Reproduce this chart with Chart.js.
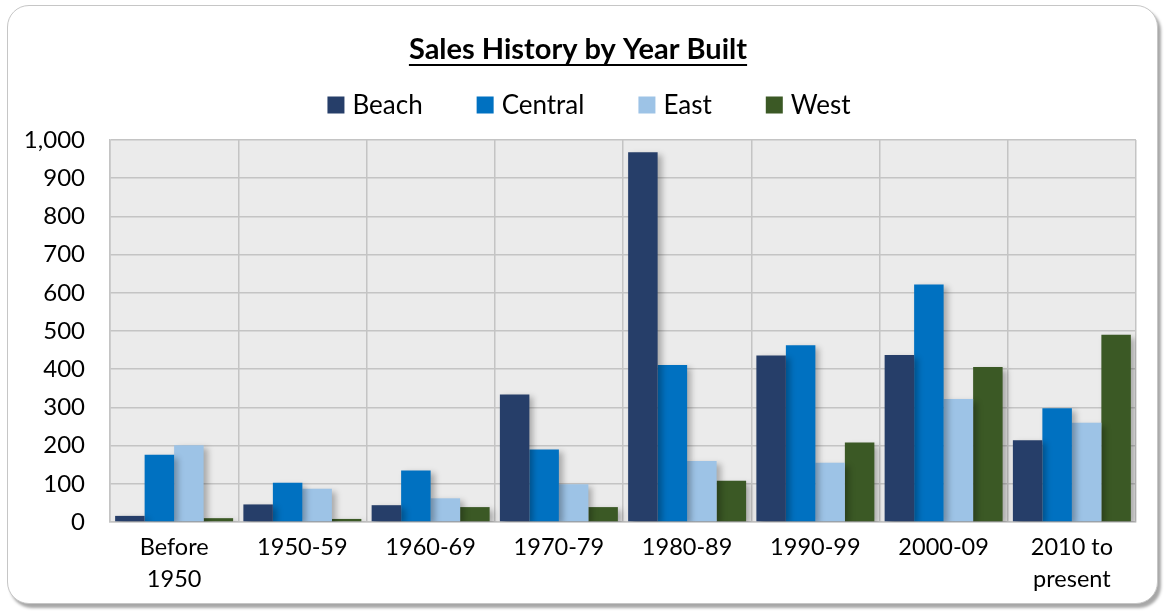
<!DOCTYPE html>
<html lang="en">
<head>
  <meta charset="UTF-8">
  <title>Sales History by Year Built</title>
  <script src="https://cdn.jsdelivr.net/npm/chart.js"></script>
  <style>
    html, body { margin: 0; padding: 0; background: #ffffff; }
    #frame {
      position: absolute; left: 7px; top: 5px; width: 1151px; height: 599px;
      box-sizing: border-box; border: 1.5px solid #c6c6c6; border-radius: 22px;
      box-shadow: 3px 4px 3px rgba(0, 0, 0, 0.35); background: #ffffff;
    }
    #salesChart { position: absolute; left: 0; top: 0; }
  </style>
</head>
<body>
  <div id="frame"></div>
  <canvas id="salesChart" width="1165" height="614"></canvas>

  <script>
    // Sales counts per build-year bucket, one array per area
    const yearBuilt = [['Before', '1950'], '1950-59', '1960-69', '1970-79', '1980-89', '1990-99', '2000-09', ['2010 to', 'present']];
    const areaNames = ['Beach', 'Central', 'East', 'West'];
    const beachSales = [16, 46, 44, 334, 968, 436, 437, 214];
    const centralSales = [176, 103, 135, 190, 411, 463, 622, 298];
    const eastSales = [201, 87, 62, 99, 160, 155, 322, 260];
    const westSales = [10, 8, 39, 39, 108, 208, 406, 490];
    const areaColors = ['#263e69', '#0071c1', '#9dc3e6', '#3b5925'];

    const FONT = 'Lato, "Open Sans", sans-serif';
    const TITLE_SIZE = 29;

    // grey plot background
    const plotBackground = {
      id: 'plotBackground',
      beforeDraw(chart) {
        const { ctx, chartArea: a } = chart;
        ctx.save();
        ctx.fillStyle = '#ebebeb';
        ctx.fillRect(a.left, a.top, a.right - a.left, a.bottom - a.top);
        ctx.restore();
      }
    };

    // soft drop shadow behind the bars
    const barShadow = {
      id: 'barShadow',
      beforeDatasetsDraw(chart) {
        const ctx = chart.ctx;
        ctx.save();
        ctx.shadowColor = 'rgba(0, 0, 0, 0.28)';
        ctx.shadowBlur = 6;
        ctx.shadowOffsetX = 4;
        ctx.shadowOffsetY = 3;
      },
      afterDatasetsDraw(chart) {
        chart.ctx.restore();
      }
    };

    // underline under the title plus a single-row legend below it
    const titleAndLegend = {
      id: 'titleAndLegend',
      afterDraw(chart) {
        const ctx = chart.ctx;
        const tb = chart.titleBlock;
        ctx.save();
        ctx.font = 'bold ' + TITLE_SIZE + 'px ' + FONT;
        const tw = ctx.measureText(chart.options.plugins.title.text).width;
        const cx = (tb.left + tb.right) / 2;
        ctx.fillStyle = '#000000';
        ctx.fillRect(cx - tw / 2, 64, tw, 2);

        ctx.font = '26px ' + FONT;
        const box = 17, textGap = 8, itemGap = 54;
        const widths = areaNames.map(n => ctx.measureText(n).width);
        const total = widths.reduce((s, w) => s + box + textGap + w, 0) + itemGap * (areaNames.length - 1);
        let x = 589 - total / 2;
        const y = 105;
        ctx.textBaseline = 'middle';
        areaNames.forEach((name, i) => {
          ctx.fillStyle = areaColors[i];
          ctx.fillRect(x, y - box / 2, box, box);
          ctx.fillStyle = '#000000';
          ctx.fillText(name, x + box + textGap, y + 1);
          x += box + textGap + widths[i] + itemGap;
        });
        ctx.restore();
      }
    };

    const series = [beachSales, centralSales, eastSales, westSales];

    const ctx = document.getElementById('salesChart').getContext('2d');
    const chart = new Chart(ctx, {
      type: 'bar',
      data: {
        labels: yearBuilt,
        datasets: areaNames.map((name, i) => ({
          label: name,
          data: series[i],
          backgroundColor: areaColors[i],
          borderWidth: 0,
          categoryPercentage: 0.92,
          barPercentage: 1.0
        }))
      },
      options: {
        responsive: false,
        animation: false,
        layout: { padding: { left: 20, right: 29, top: 0, bottom: 18 } },
        plugins: {
          legend: { display: false },
          tooltip: { enabled: false },
          title: {
            display: true,
            text: 'Sales History by Year Built',
            color: '#000000',
            font: { family: FONT, size: TITLE_SIZE, weight: 'bold', lineHeight: 1.2 },
            padding: { top: 32.6, bottom: 72.6 }
          }
        },
        scales: {
          x: {
            grid: { color: '#c4c4c4', lineWidth: 1.5, drawTicks: false, offset: true },
            border: { color: '#c4c4c4', width: 1.5 },
            ticks: {
              color: '#000000',
              padding: 9,
              maxRotation: 0,
              autoSkip: false,
              font: { family: FONT, size: 23.5, lineHeight: 1.36 }
            },
            afterFit(scale) { scale.height = 74; }
          },
          y: {
            min: 0,
            max: 1000,
            grid: { color: '#c4c4c4', lineWidth: 1.5, drawTicks: false },
            border: { color: '#c4c4c4', width: 1.5 },
            ticks: {
              stepSize: 100,
              color: '#000000',
              padding: 25,
              font: { family: FONT, size: 24 },
              callback: v => v.toLocaleString('en-US')
            },
            afterFit(scale) { scale.width = 90; }
          }
        }
      },
      plugins: [plotBackground, barShadow, titleAndLegend]
    });
  </script>
</body>
</html>
